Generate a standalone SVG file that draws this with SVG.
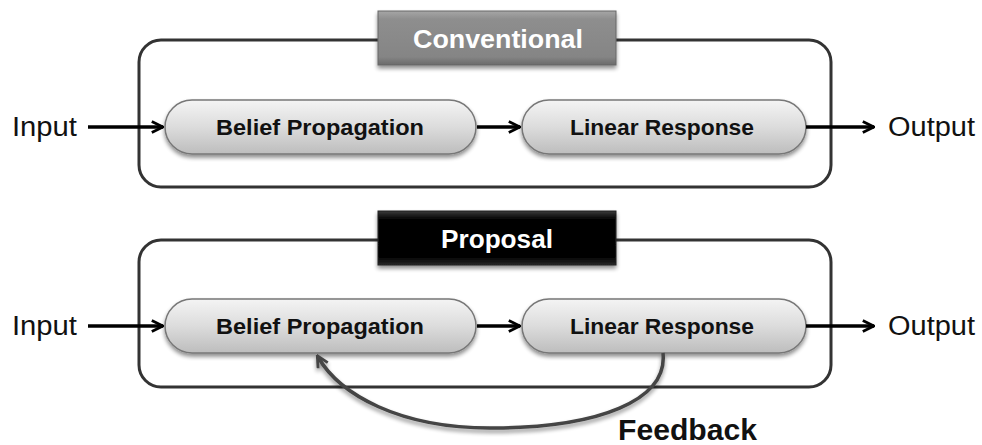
<svg xmlns="http://www.w3.org/2000/svg" width="982" height="445" viewBox="0 0 982 445">
<defs>
<linearGradient id="pill" x1="0" y1="0" x2="0" y2="1">
<stop offset="0" stop-color="#f4f4f4"/>
<stop offset="0.5" stop-color="#dcdcdc"/>
<stop offset="1" stop-color="#bdbdbd"/>
</linearGradient>
<linearGradient id="grayTab" x1="0" y1="0" x2="0" y2="1">
<stop offset="0" stop-color="#a6a6a6"/>
<stop offset="0.15" stop-color="#8e8e8e"/>
<stop offset="0.85" stop-color="#858585"/>
<stop offset="1" stop-color="#6a6a6a"/>
</linearGradient>
<linearGradient id="blackTab" x1="0" y1="0" x2="0" y2="1">
<stop offset="0" stop-color="#3a3a3a"/>
<stop offset="0.15" stop-color="#050505"/>
<stop offset="0.85" stop-color="#000"/>
<stop offset="1" stop-color="#2a2a2a"/>
</linearGradient>
<filter id="sh" x="-10%" y="-20%" width="120%" height="150%">
<feGaussianBlur in="SourceAlpha" stdDeviation="2"/>
<feOffset dx="0" dy="3" result="b"/>
<feComponentTransfer><feFuncA type="linear" slope="0.45"/></feComponentTransfer>
<feMerge><feMergeNode/><feMergeNode in="SourceGraphic"/></feMerge>
</filter>
<marker id="ah" viewBox="0 0 10 10" refX="9" refY="5" markerWidth="4" markerHeight="4" orient="auto" markerUnits="strokeWidth">
<path d="M1,1 L9,5 L1,9" fill="none" stroke="#000" stroke-width="2"/>
</marker>
<marker id="ahg" viewBox="0 0 10 10" refX="8" refY="5" markerWidth="4" markerHeight="4" orient="auto" markerUnits="strokeWidth">
<path d="M1,1 L9,5 L1,9" fill="none" stroke="#444" stroke-width="2"/>
</marker>
</defs>
<style>
.frame{fill:none;stroke:#333;stroke-width:3}
.pill{fill:url(#pill);stroke:#777;stroke-width:1.5}
.pt{font-family:"Liberation Sans",Arial,sans-serif;font-weight:bold;font-size:22px;fill:#111;text-anchor:middle}
.io{font-family:"Liberation Sans",Arial,sans-serif;font-size:27px;fill:#111}
.tab{font-family:"Liberation Sans",Arial,sans-serif;font-weight:bold;font-size:26px;fill:#fff;text-anchor:middle}
.arr{stroke:#000;stroke-width:3.5;fill:none;marker-end:url(#ah)}
</style>

<g id="frame-conventional">
<rect class="frame" x="139" y="40" width="692" height="147" rx="22"/>
</g>
<g id="tab-conventional">
<rect x="378" y="11" width="238" height="54" fill="url(#grayTab)" stroke="#666" stroke-width="1" filter="url(#sh)"/>
<text class="tab" x="498" y="48" textLength="170" lengthAdjust="spacingAndGlyphs">Conventional</text>
</g>
<g id="frame-proposal">
<rect class="frame" x="139" y="240" width="692" height="147" rx="22"/>
</g>
<g id="tab-proposal">
<rect x="378" y="211" width="238" height="54" fill="url(#blackTab)" stroke="#222" stroke-width="1" filter="url(#sh)"/>
<text class="tab" x="497" y="248" textLength="112" lengthAdjust="spacingAndGlyphs">Proposal</text>
</g>

<g id="input1"><text class="io" x="12" y="136" textLength="65" lengthAdjust="spacingAndGlyphs">Input</text></g>
<g id="output1"><text class="io" x="888" y="136" textLength="87" lengthAdjust="spacingAndGlyphs">Output</text></g>
<g id="bp1">
<rect class="pill" x="165" y="100" width="311" height="54" rx="27" filter="url(#sh)"/>
<text class="pt" x="320" y="135" textLength="208" lengthAdjust="spacingAndGlyphs">Belief Propagation</text>
</g>
<g id="lr1">
<rect class="pill" x="522" y="100" width="284" height="54" rx="27" filter="url(#sh)"/>
<text class="pt" x="662" y="135" textLength="184" lengthAdjust="spacingAndGlyphs">Linear Response</text>
</g>

<g id="input2"><text class="io" x="12" y="335" textLength="65" lengthAdjust="spacingAndGlyphs">Input</text></g>
<g id="output2"><text class="io" x="888" y="335" textLength="87" lengthAdjust="spacingAndGlyphs">Output</text></g>
<g id="bp2">
<rect class="pill" x="165" y="299" width="311" height="54" rx="27" filter="url(#sh)"/>
<text class="pt" x="320" y="334" textLength="208" lengthAdjust="spacingAndGlyphs">Belief Propagation</text>
</g>
<g id="lr2">
<rect class="pill" x="522" y="299" width="284" height="54" rx="27" filter="url(#sh)"/>
<text class="pt" x="662" y="334" textLength="184" lengthAdjust="spacingAndGlyphs">Linear Response</text>
</g>
<g id="feedback-label">
<text x="618" y="440" font-family="'Liberation Sans',Arial,sans-serif" font-weight="bold" font-size="30" fill="#111" textLength="139" lengthAdjust="spacingAndGlyphs">Feedback</text>
</g>

<g id="connectors">
<line class="arr" x1="88" y1="127" x2="163" y2="127"/>
<line class="arr" x1="477" y1="127" x2="520" y2="127"/>
<line class="arr" x1="806" y1="127" x2="874" y2="127"/>
<line class="arr" x1="88" y1="326" x2="163" y2="326"/>
<line class="arr" x1="477" y1="326" x2="520" y2="326"/>
<line class="arr" x1="806" y1="326" x2="874" y2="326"/>
<path d="M663,353 C668,400 600,428 490,428 C400,428 340,395 318,357" fill="none" stroke="#444" stroke-width="3.5" marker-end="url(#ahg)" filter="url(#sh)"/>
</g>
</svg>
